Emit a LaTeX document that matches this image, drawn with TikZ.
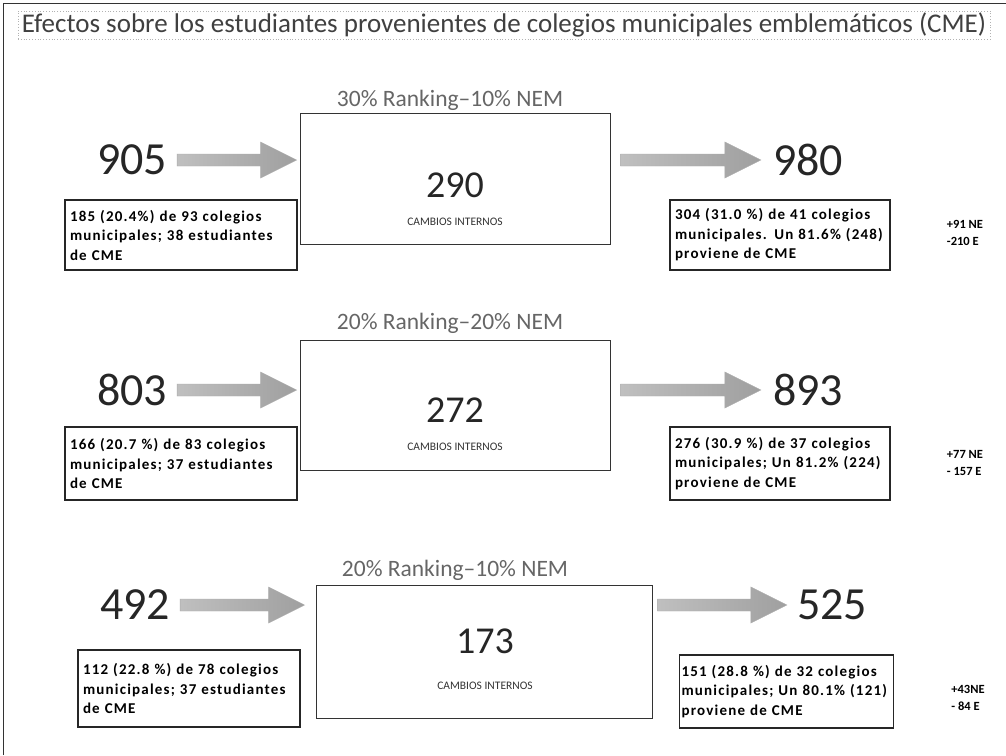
\documentclass[tikz,border=0pt]{standalone}
\usepackage{fontspec}
\setmainfont{Carlito}
\usetikzlibrary{calc}
\newfontfamily\infofont[LetterSpace=8]{Carlito}
\newcommand\blockarrow[2]{%
  \path[arrowfill] let \p1=(#1), \p2=(#2) in
    (\x1,\y1+6) -- (\x2-36,\y1+6) -- (\x2-36,\y1+18) -- (\x2,\y1) --
    (\x2-36,\y1-18) -- (\x2-36,\y1-6) -- (\x1,\y1-6) -- cycle;}
\begin{document}
\begin{tikzpicture}[x=1pt,y=-1pt,
  bignum/.style={font=\fontsize{46}{50}\selectfont, text=black!85, inner sep=0pt},
  midnum/.style={font=\fontsize{38}{42}\selectfont, text=black!85, inner sep=0pt},
  heading/.style={font=\fontsize{23.5}{26}\selectfont, text=black!60, inner sep=0pt},
  cambios/.style={font=\fontsize{11.5}{12}\selectfont, text=black!80, inner sep=0pt},
  mainbox/.style={draw=black!80, line width=0.9pt, inner sep=0pt},
  infobox/.style={draw=black!85, line width=1.3pt, align=left,
    font=\infofont\bfseries\fontsize{15}{19.5}\selectfont, inner sep=5pt},
  sidenote/.style={font=\bfseries\fontsize{12.5}{17}\selectfont, align=left, inner sep=0pt},
  arrowfill/.style={left color=gray!50, right color=gray!75, draw=gray!65, line width=0.4pt},
  titlebox/.style={draw=gray!60, dotted, line width=0.8pt, minimum width=972, minimum height=28,
    font=\fontsize{27}{28}\selectfont, text=black!75, inner sep=0pt}
]
\useasboundingbox (0,0) rectangle (1006,755);
\fill[white] (0,0) rectangle (1006,755);
% outer frame
\draw[black!80, line width=1pt] (3,755) -- (3,3) -- (1006,3);

% title
\node[titlebox] (title) at (504,25) {Efectos sobre los estudiantes provenientes de colegios municipales emblemáticos (CME)};

% ---------- row 1 ----------
\node[heading] (h1) at (450,100) {30\% Ranking–10\% NEM};
\node[mainbox, minimum width=310, minimum height=131] (box1) at (455,178.5) {};
\node[midnum] (c1) at (455,185) {290};
\node[cambios] (ci1) at (455,222) {CAMBIOS INTERNOS};
\node[bignum] (n905) at (132,160) {905};
\node[bignum] (n980) at (808,160) {980};
\node[infobox, minimum height=70, text width=222] (l1) at (181,235)
  {185 (20.4\%) de 93 colegios\\ municipales; 38 estudiantes\\ de CME};
\node[infobox, minimum height=70, text width=210] (r1) at (780,235)
  {304 (31.0 \%) de 41 colegios\\ municipales. Un 81.6\% (248)\\ proviene de CME};
\node[sidenote] (s1) at (965,233) {+91 NE\\-210 E};
\blockarrow{$(n905.east)+(10,0)$}{$(box1.west |- n905)+(-3,0)$}
\blockarrow{$(box1.east |- n980)+(10,0)$}{$(n980.west)+(-12,0)$}

% ---------- row 2 ----------
\node[heading] (h2) at (450,323) {20\% Ranking–20\% NEM};
\node[mainbox, minimum width=310, minimum height=130] (box2) at (455,405) {};
\node[midnum] (c2) at (455,410) {272};
\node[cambios] (ci2) at (455,447) {CAMBIOS INTERNOS};
\node[bignum] (n803) at (132,390) {803};
\node[bignum] (n893) at (808,390) {893};
\node[infobox, minimum height=73, text width=222] (l2) at (181,463.5)
  {166 (20.7 \%) de 83 colegios\\ municipales; 37 estudiantes\\ de CME};
\node[infobox, minimum height=73, text width=210] (r2) at (780,463.5)
  {276 (30.9 \%) de 37 colegios\\ municipales; Un 81.2\% (224)\\ proviene de CME};
\node[sidenote] (s2) at (965,463) {+77 NE\\- 157 E};
\blockarrow{$(n803.east)+(10,0)$}{$(box2.west |- n803)+(-3,0)$}
\blockarrow{$(box2.east |- n893)+(10,0)$}{$(n893.west)+(-12,0)$}

% ---------- row 3 ----------
\node[heading] (h3) at (455,570) {20\% Ranking–10\% NEM};
\node[mainbox, minimum width=336, minimum height=133] (box3) at (484,651.5) {};
\node[midnum] (c3) at (485,641) {173};
\node[cambios] (ci3) at (485,686) {CAMBIOS INTERNOS};
\node[bignum] (n492) at (135,605) {492};
\node[bignum] (n525) at (832,605) {525};
\node[infobox, minimum height=77, text width=212] (l3) at (189,688.5)
  {112 (22.8 \%) de 78 colegios\\ municipales; 37 estudiantes\\ de CME};
\node[infobox, minimum height=73, text width=210, inner xsep=2pt] (r3) at (786.5,691.5)
  {151 (28.8 \%) de 32 colegios\\ municipales; Un 80.1\% (121)\\ proviene de CME};
\node[sidenote] (s3) at (968,698) {+43NE\\- 84 E};
\blockarrow{$(n492.east)+(10,0)$}{$(box3.west |- n492)+(-11,0)$}
\blockarrow{$(box3.east |- n525)+(5,0)$}{$(n525.west)+(-10,0)$}
\end{tikzpicture}
\end{document}
